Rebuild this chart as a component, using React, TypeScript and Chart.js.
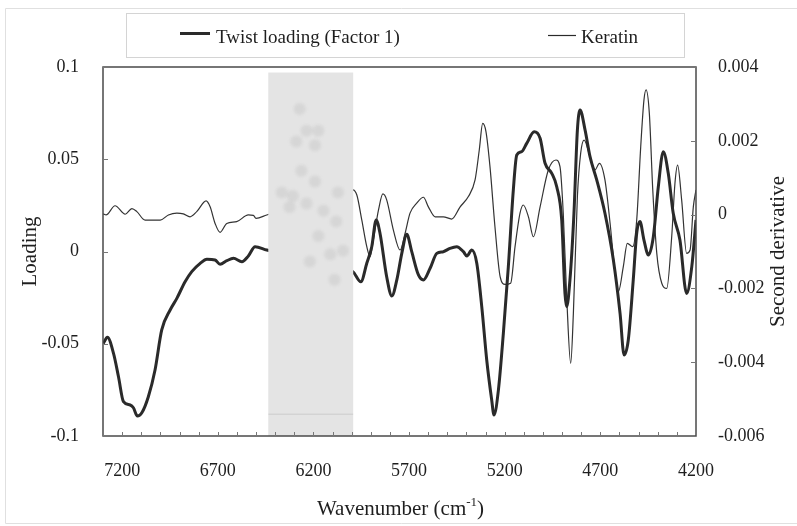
import { useEffect, useRef } from "react";
import { Chart, registerables } from "chart.js";

Chart.register(...registerables);

// Twist loading (Factor 1): wavenumber (cm-1) and loading
const loadingWavenumbers = [
  7298, 7277, 7245, 7219, 7193, 7158, 7141, 7120, 7097, 7063, 7028, 6993, 6949, 6914, 6871, 6836, 6792, 6757,
  6714, 6688, 6653, 6618, 6574, 6540, 6505, 6444,
  5994, 5952, 5921, 5895, 5872, 5852, 5817, 5790, 5764, 5738, 5712, 5686, 5651, 5625, 5590, 5555, 5521, 5486,
  5451, 5416, 5398, 5372, 5346, 5320, 5294, 5268, 5256, 5233, 5207, 5181, 5155, 5137, 5111, 5085, 5046,
  5015, 4989, 4954, 4928, 4902, 4885, 4876, 4859, 4838, 4820, 4806, 4780, 4754, 4719, 4676, 4632, 4597, 4576,
  4554, 4528, 4510, 4493, 4472, 4449, 4423, 4397, 4371, 4345, 4319, 4284, 4249, 4222, 4200,
];
const loadingValues = [
  -0.0498, -0.0465, -0.0552, -0.0679, -0.0814, -0.0832, -0.0847, -0.0892, -0.0874, -0.0787, -0.0642, -0.0425,
  -0.0317, -0.0254, -0.0164, -0.0109, -0.0064, -0.0042, -0.0046, -0.0069, -0.005, -0.0037, -0.0055, -0.0024,
  0.0026, 0.0008,
  -0.0109, -0.0164, -0.0064, 0.0026, 0.0171, 0.0099, -0.0137, -0.0241, -0.0154, -0.001, 0.0093, -0.0001, -0.0127,
  -0.0154, -0.0091, -0.001, -0.0001, 0.0017, 0.0026, -0.0001, -0.0024, 0.0008, -0.0064, -0.0299, -0.0588, -0.0805,
  -0.0886, -0.0751, -0.0443, -0.0082, 0.0333, 0.0523, 0.0541, 0.0586, 0.0649,
  0.0614, 0.0478, 0.0424, 0.0351, 0.0171, -0.0227, -0.0299, -0.0154, 0.0207, 0.0659, 0.0767, 0.0659, 0.0514,
  0.0388, 0.0207, -0.0046, -0.0335, -0.0561, -0.048, -0.0154, 0.0099, 0.0162, 0.0062, -0.0019, 0.008, 0.0351,
  0.0541, 0.0424, 0.0207, 0.0062, -0.0227, -0.0082, 0.0171,
];

// Keratin second-derivative spectrum
const keratinWavenumbers = [
  7299, 7284, 7237, 7184, 7149, 7123, 7080, 7001, 6958, 6914, 6880, 6845, 6810, 6761, 6740, 6714, 6688, 6653,
  6601, 6540, 6514, 6500, 6444,
  5994, 5973, 5947, 5921, 5904, 5887, 5860, 5837, 5817, 5782, 5747, 5721, 5695, 5660, 5625, 5599, 5564, 5521,
  5477, 5433, 5390, 5355, 5333, 5315, 5298, 5277, 5251, 5224, 5198, 5169, 5146, 5120, 5103, 5076, 5050, 5015,
  4972, 4932, 4911, 4894, 4876, 4855, 4841, 4820, 4803, 4785, 4754, 4728, 4705, 4676, 4649, 4623, 4606, 4580,
  4559, 4531, 4510, 4489, 4472, 4461, 4444, 4426, 4405, 4379, 4353, 4327, 4310, 4296, 4275, 4249, 4231, 4214, 4200,
];
const keratinValues = [
  0.00002, -0.00001, 0.00024, 0.00001, 0.00016, 0.00008, -0.00015, -0.00015, -0.00001, 0.00004, 0.00002, -0.00006,
  0.00008, 0.00037, 0.00021, -0.00024, -0.00048, -0.00024, -0.00019, -0.00001, -0.00002, -0.0001, -0.00001,
  0.00067, 0.00053, -0.00015, -0.00087, -0.00114, -0.00069, 0.00012, 0.00056, 0.0004, -0.00042, -0.00096,
  -0.00051, 0.00004, 0.00031, 0.00047, 0.00021, -0.00006, -0.00006, -0.00012, 0.00021, 0.00049, 0.00094, 0.00175,
  0.00247, 0.00225, 0.0013, -0.00033, -0.00168, -0.00189, -0.00186, -0.00087, 0.00004, 0.00026, -0.00006,
  -0.0006, 0.00021, 0.00121, 0.00148, 0.0013, 0.00004, -0.00222, -0.00403, -0.00267, 0.00049, 0.00166, 0.00202,
  0.00157, 0.00121, 0.00139, 0.00094, -0.00024, -0.00159, -0.00209, -0.00141, -0.00078, -0.00087, -0.00015,
  0.00184, 0.00311, 0.00338, 0.00275, 0.00067, -0.00105, -0.00186, -0.002, -0.0006, 0.00085, 0.00134, 0.0004,
  -0.00105, -0.00096, 0.00021, 0.00067,
];

const xTickValues = [7200, 6700, 6200, 5700, 5200, 4700, 4200];
const loadingTicks = [0.1, 0.05, 0, -0.05, -0.1];
const derivTicks = [0.004, 0.002, 0, -0.002, -0.004, -0.006];

// Inset photograph band (wavenumber span, top in loading units)
const insetBand = [6436, 5992];
const insetTop = 0.097;

const FONT = "'Liberation Serif', 'Times New Roman', serif";
const INK = "#1e1e1e";

const fmt = (v: number) => String(Number(v.toFixed(4)));

// Darker flecks inside the inset photo, as fractions of its box
const insetFlecks = [
  [0.37, 0.1], [0.45, 0.16], [0.59, 0.16], [0.33, 0.19], [0.55, 0.2], [0.39, 0.27], [0.55, 0.3],
  [0.29, 0.34], [0.45, 0.36], [0.82, 0.33], [0.65, 0.38], [0.59, 0.45], [0.8, 0.41], [0.88, 0.49],
  [0.73, 0.5], [0.49, 0.52], [0.78, 0.57], [0.25, 0.37], [0.16, 0.33],
];

const decorations = {
  id: "decorations",
  afterDatasetsDraw(chart: any) {
    const { ctx, chartArea, scales } = chart;
    const x = scales.x;
    const y = scales.y;
    const left = x.getPixelForValue(insetBand[0]);
    const right = x.getPixelForValue(insetBand[1]);
    const top = y.getPixelForValue(insetTop);
    const bottom = chartArea.bottom;
    const w = right - left;
    const h = bottom - top;
    ctx.save();
    ctx.fillStyle = "#e4e4e4";
    ctx.fillRect(left, top, w, h);
    ctx.save();
    ctx.beginPath();
    ctx.rect(left, top, w, h);
    ctx.clip();
    ctx.filter = "blur(1.5px)";
    ctx.fillStyle = "rgba(120,120,120,0.13)";
    for (const [fx, fy] of insetFlecks) {
      ctx.beginPath();
      ctx.arc(left + fx * w, top + fy * h, 6, 0, Math.PI * 2);
      ctx.fill();
    }
    ctx.restore();
    ctx.strokeStyle = "rgba(110,110,110,0.2)";
    ctx.lineWidth = 1;
    ctx.beginPath();
    ctx.moveTo(left, top + h * 0.94);
    ctx.lineTo(right, top + h * 0.94);
    ctx.stroke();
    ctx.restore();
  },
  afterDraw(chart: any) {
    const { ctx, chartArea, scales } = chart;
    const { left, right, top, bottom } = chartArea;
    ctx.save();

    // faint outer frame
    ctx.strokeStyle = "#e0e0e0";
    ctx.lineWidth = 1;
    ctx.beginPath();
    ctx.moveTo(797, 8.5);
    ctx.lineTo(5.5, 8.5);
    ctx.lineTo(5.5, 523.5);
    ctx.lineTo(797, 523.5);
    ctx.stroke();

    // plot frame
    ctx.strokeStyle = "#4a4a4a";
    ctx.lineWidth = 1.5;
    ctx.strokeRect(left, top, right - left, bottom - top);

    // inward tick marks
    ctx.strokeStyle = "#777";
    ctx.lineWidth = 1;
    ctx.beginPath();
    for (let w = 4200; w <= 7300; w += 100) {
      const px = Math.round(scales.x.getPixelForValue(w)) + 0.5;
      ctx.moveTo(px, bottom);
      ctx.lineTo(px, bottom - 4);
    }
    for (const v of loadingTicks) {
      const py = Math.round(scales.y.getPixelForValue(v)) + 0.5;
      ctx.moveTo(left, py);
      ctx.lineTo(left + 5, py);
    }
    for (const v of derivTicks) {
      const py = Math.round(scales.y2.getPixelForValue(v)) + 0.5;
      ctx.moveTo(right, py);
      ctx.lineTo(right - 5, py);
    }
    ctx.stroke();

    // axis titles
    ctx.fillStyle = INK;
    ctx.font = `21px ${FONT}`;
    ctx.textAlign = "center";
    ctx.textBaseline = "middle";
    ctx.save();
    ctx.translate(30, (top + bottom) / 2);
    ctx.rotate(-Math.PI / 2);
    ctx.fillText("Loading", 0, 0);
    ctx.restore();
    ctx.save();
    ctx.translate(778, (top + bottom) / 2);
    ctx.rotate(-Math.PI / 2);
    ctx.fillText("Second derivative", 0, 0);
    ctx.restore();

    const main = "Wavenumber (cm";
    const sup = "-1";
    const close = ")";
    ctx.textAlign = "left";
    ctx.textBaseline = "alphabetic";
    ctx.font = `21px ${FONT}`;
    const w1 = ctx.measureText(main).width;
    const w3 = ctx.measureText(close).width;
    ctx.font = `13px ${FONT}`;
    const w2 = ctx.measureText(sup).width;
    let tx = (left + right) / 2 + 1 - (w1 + w2 + w3) / 2;
    const base = 515;
    ctx.font = `21px ${FONT}`;
    ctx.fillText(main, tx, base);
    tx += w1;
    ctx.font = `13px ${FONT}`;
    ctx.fillText(sup, tx, base - 9);
    tx += w2;
    ctx.font = `21px ${FONT}`;
    ctx.fillText(close, tx, base);

    // legend
    ctx.strokeStyle = "#d4d4d4";
    ctx.lineWidth = 1;
    ctx.strokeRect(126.5, 13.5, 558, 44);
    ctx.strokeStyle = "#2a2a2a";
    ctx.lineWidth = 3;
    ctx.beginPath();
    ctx.moveTo(180, 33.5);
    ctx.lineTo(210, 33.5);
    ctx.stroke();
    ctx.lineWidth = 1.2;
    ctx.beginPath();
    ctx.moveTo(548, 35.5);
    ctx.lineTo(576, 35.5);
    ctx.stroke();
    ctx.font = `19px ${FONT}`;
    ctx.fillStyle = INK;
    ctx.fillText("Twist loading (Factor 1)", 216, 43);
    ctx.fillText("Keratin", 581, 43);

    ctx.restore();
  },
};

export default function App() {
  const canvasRef = useRef<HTMLCanvasElement>(null);

  useEffect(() => {
    const canvas = canvasRef.current;
    if (!canvas) return;
    const tickFont = { family: FONT, size: 18 };
    const chart = new Chart(canvas, {
      type: "line",
      data: {
        datasets: [
          {
            label: "Twist loading (Factor 1)",
            data: loadingWavenumbers.map((w, i) => ({ x: w, y: loadingValues[i] })),
            yAxisID: "y",
            borderColor: "#2a2a2a",
            borderWidth: 3,
            pointRadius: 0,
            cubicInterpolationMode: "monotone",
            borderJoinStyle: "round",
            fill: false,
          },
          {
            label: "Keratin",
            data: keratinWavenumbers.map((w, i) => ({ x: w, y: keratinValues[i] })),
            yAxisID: "y2",
            borderColor: "#333",
            borderWidth: 1.2,
            pointRadius: 0,
            cubicInterpolationMode: "monotone",
            borderJoinStyle: "round",
            fill: false,
          },
        ],
      },
      options: {
        responsive: false,
        animation: false,
        devicePixelRatio: 1,
        layout: { padding: { top: 67, left: 0, right: 0, bottom: 0 } },
        plugins: { legend: { display: false }, tooltip: { enabled: false } },
        scales: {
          x: {
            type: "linear",
            reverse: true,
            min: 4200,
            max: 7300,
            afterBuildTicks: (s: any) => {
              s.ticks = xTickValues.map((v) => ({ value: v }));
            },
            afterFit: (s: any) => {
              s.height = 90;
            },
            grid: { display: false },
            border: { display: false },
            ticks: {
              padding: 16,
              font: tickFont,
              color: INK,
              maxRotation: 0,
              autoSkip: false,
              callback: (v: any) => String(v),
            },
          },
          y: {
            position: "left",
            min: -0.1,
            max: 0.1,
            afterBuildTicks: (s: any) => {
              s.ticks = loadingTicks.map((v) => ({ value: v }));
            },
            afterFit: (s: any) => {
              s.width = 103;
            },
            grid: { display: false },
            border: { display: false },
            ticks: { padding: 16, font: tickFont, color: INK, callback: (v: any) => fmt(Number(v)) },
          },
          y2: {
            position: "right",
            min: -0.006,
            max: 0.004,
            afterBuildTicks: (s: any) => {
              s.ticks = derivTicks.map((v) => ({ value: v }));
            },
            afterFit: (s: any) => {
              s.width = 101;
            },
            grid: { display: false },
            border: { display: false },
            ticks: { padding: 14, font: tickFont, color: INK, callback: (v: any) => fmt(Number(v)) },
          },
        },
      },
      plugins: [decorations],
    } as any);
    return () => chart.destroy();
  }, []);

  return (
    <div style={{ position: "absolute", left: 0, top: 0, width: 797, height: 526, background: "#fff" }}>
      <canvas ref={canvasRef} width={797} height={526} style={{ display: "block" }} />
    </div>
  );
}
